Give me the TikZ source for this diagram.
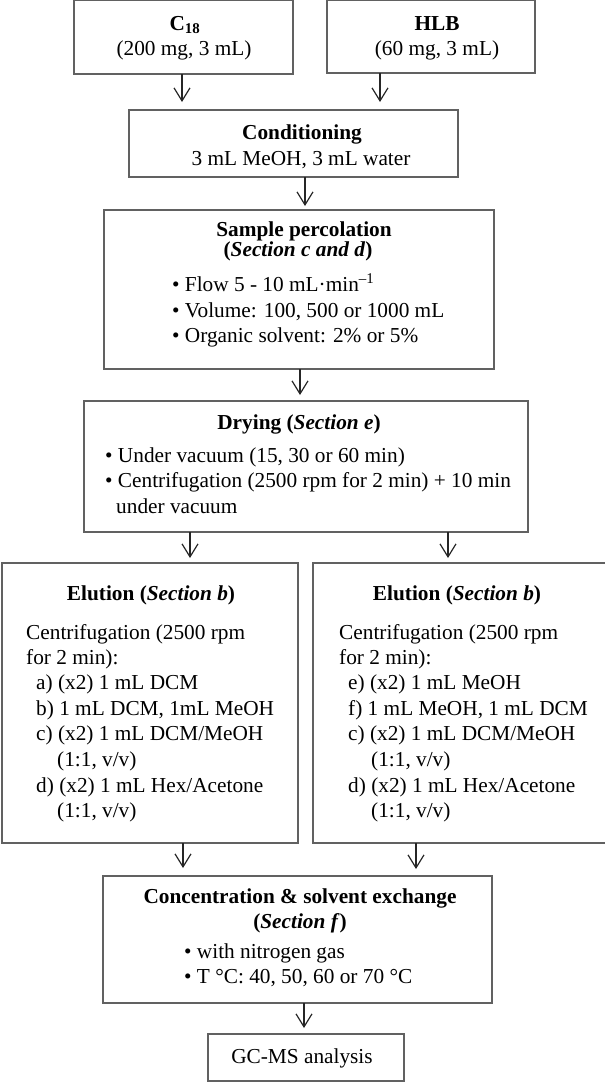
\documentclass[tikz,border=0pt]{standalone}
\usepackage{fontspec}
\setmainfont{Liberation Serif}
\usetikzlibrary{arrows.meta}
\begin{document}
\begin{tikzpicture}[x=1pt,y=-1pt,
  box/.style={draw=black!62, line width=1.3pt, inner sep=0pt, outer sep=0pt, anchor=north west},
  txt/.style={inner sep=0pt, font=\fontsize{21.3}{25.6}\selectfont},
  ctr/.style={txt, anchor=base},
  lft/.style={txt, anchor=base west},
  arr/.style={draw=black!85, line width=1.2pt, -{Straight Barb[length=13pt,width=16pt,line width=1.2pt]}},
]
\useasboundingbox (0,0) rectangle (605,1082);

% boxes
\node[box, minimum width=219pt, minimum height=73.4pt] (c18) at (74,0.6) {};
\node[box, minimum width=208pt, minimum height=72.4pt] (hlb) at (327,0.6) {};
\node[box, minimum width=329pt, minimum height=67pt] (cond) at (129,110) {};
\node[box, minimum width=390pt, minimum height=159pt] (perc) at (104,210) {};
\node[box, minimum width=444pt, minimum height=131pt] (dry) at (84,401) {};
\node[box, minimum width=296pt, minimum height=280pt] (elL) at (2,563) {};
\node[box, minimum width=300pt, minimum height=280pt] (elR) at (313,563) {};
\node[box, minimum width=389pt, minimum height=127pt] (conc) at (103,876) {};
\node[box, minimum width=196pt, minimum height=47pt] (gc) at (208,1034) {};

% arrow x positions
\coordinate (x1) at (182,0);
\coordinate (x2) at (380,0);
\coordinate (x3) at (305,0);
\coordinate (x4) at (300,0);
\coordinate (x5) at (190,0);
\coordinate (x6) at (448,0);
\coordinate (x7) at (183,0);
\coordinate (x8) at (416,0);
\coordinate (x9) at (304,0);

\draw[arr, shorten >=8pt] (c18.south -| x1) -- (cond.north -| x1);
\draw[arr, shorten >=8pt] (hlb.south -| x2) -- (cond.north -| x2);
\draw[arr, shorten >=4pt] (cond.south -| x3) -- (perc.north -| x3);
\draw[arr, shorten >=6pt] (perc.south -| x4) -- (dry.north -| x4);
\draw[arr, shorten >=5pt] (dry.south -| x5) -- (elL.north -| x5);
\draw[arr, shorten >=5pt] (dry.south -| x6) -- (elR.north -| x6);
\draw[arr, shorten >=8pt] (elL.south -| x7) -- (conc.north -| x7);
\draw[arr, shorten >=7pt] (elR.south -| x8) -- (conc.north -| x8);
\draw[arr, shorten >=6pt] (conc.south -| x9) -- (gc.north -| x9);

% texts
\node[ctr] (t1) at (185,30) {\bfseries C\textsubscript{18}};
\node[ctr] (t2) at (184,55) {(200 mg, 3 mL)};
\node[ctr] (t3) at (437,30) {\bfseries HLB};
\node[ctr] (t4) at (437,55) {(60 mg, 3 mL)};
\node[ctr] (t5) at (302,139) {\bfseries Conditioning};
\node[ctr] (t6) at (301,165) {3 mL MeOH, 3 mL water};

\node[ctr] (t7) at (304,236) {\bfseries Sample percolation};
\node[ctr] (t8) at (298,256) {\bfseries (\textit{Section c and d})};
\node[lft] (t9) at (172,291) {• Flow 5 - 10 mL·min\textsuperscript{–1}};
\node[lft] (t10) at (172,317) {• Volume: 100, 500 or 1000 mL};
\node[lft] (t11) at (172,342) {• Organic solvent: 2\% or 5\%};

\node[ctr] (t12) at (299,429) {\bfseries Drying (\textit{Section e})};
\node[lft] (t13) at (105,462) {• Under vacuum (15, 30 or 60 min)};
\node[lft] (t14) at (105,487) {• Centrifugation (2500 rpm for 2 min) + 10 min};
\node[lft] (t15) at (116,513) {under vacuum};

\node[ctr] (t16) at (151,600) {\bfseries Elution (\textit{Section b})};
\node[lft] (t17) at (26,639) {Centrifugation (2500 rpm};
\node[lft] (t18) at (26,664) {for 2 min):};
\node[lft] (t19) at (36,689) {a) (x2) 1 mL DCM};
\node[lft] (t20) at (36,715) {b) 1 mL DCM, 1mL MeOH};
\node[lft] (t21) at (36,740) {c) (x2) 1 mL DCM/MeOH};
\node[lft] (t22) at (57,766) {(1:1, v/v)};
\node[lft] (t23) at (36,792) {d) (x2) 1 mL Hex/Acetone};
\node[lft] (t24) at (57,817) {(1:1, v/v)};

\node[ctr] (t25) at (457,600) {\bfseries Elution (\textit{Section b})};
\node[lft] (t26) at (339,639) {Centrifugation (2500 rpm};
\node[lft] (t27) at (339,664) {for 2 min):};
\node[lft] (t28) at (348,689) {e) (x2) 1 mL MeOH};
\node[lft] (t29) at (348,715) {f) 1 mL MeOH, 1 mL DCM};
\node[lft] (t30) at (348,740) {c) (x2) 1 mL DCM/MeOH};
\node[lft] (t31) at (371,766) {(1:1, v/v)};
\node[lft] (t32) at (348,792) {d) (x2) 1 mL Hex/Acetone};
\node[lft] (t33) at (371,817) {(1:1, v/v)};

\node[ctr] (t34) at (300,903) {\bfseries Concentration \& solvent exchange};
\node[ctr] (t35) at (300,928) {\bfseries (\textit{Section f})};
\node[lft] (t36) at (184,958) {• with nitrogen gas};
\node[lft] (t37) at (184,983) {• T °C: 40, 50, 60 or 70 °C};

\node[ctr] (t38) at (302,1063) {GC-MS analysis};
\end{tikzpicture}
\end{document}
